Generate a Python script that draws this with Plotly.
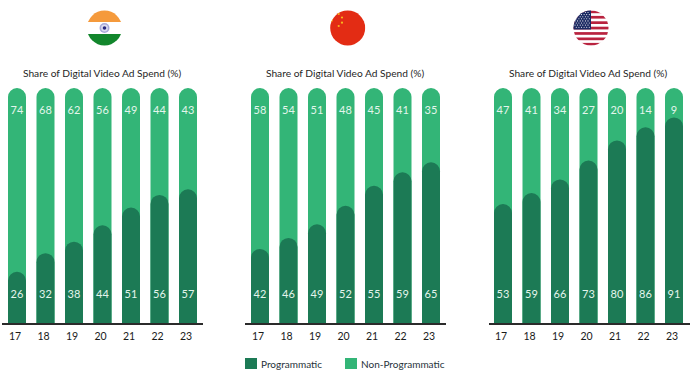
import base64
import plotly.graph_objects as go

years = [17, 18, 19, 20, 21, 22, 23]
countries = ["India", "China", "USA"]

# Printed labels of each segment
india_prog = [26, 32, 38, 44, 51, 56, 57]
india_non = [74, 68, 62, 56, 49, 44, 43]
china_prog = [42, 46, 49, 52, 55, 59, 65]
china_non = [58, 54, 51, 48, 45, 41, 35]
usa_prog = [53, 59, 66, 73, 80, 86, 91]
usa_non = [47, 41, 34, 27, 20, 14, 9]

# The reference's dark bars are not drawn to the scale of their printed labels,
# so their heights (% of the column) are read off the picture separately.
india_height = [21.8, 29.7, 34.6, 41.6, 49.1, 54.5, 56.9]
china_height = [31.5, 36.2, 42.0, 49.9, 58.4, 64.1, 68.4]
usa_height = [50.6, 55.3, 61.1, 69.1, 77.7, 83.3, 87.5]

W, H = 691, 381
DARK, LIGHT = "#1c7a55", "#33b577"
LABEL = "#e4f5ec"
FONT = "Lato"
TITLE = "Share of Digital Video Ad Spend (%)"
AX_X0 = [1.5, 245, 488.5]
AX_LEN = 201
FIRST = [17, 260, 503]
STEP = 28.5
TOP, BOTTOM = 88, 323
LABEL_LOW, LABEL_HIGH = 11.6, 90

panels = [
    (india_prog, india_non, india_height),
    (china_prog, china_non, china_height),
    (usa_prog, usa_non, usa_height),
]

fig = go.Figure()
layout = {}
for i, (prog, non, height) in enumerate(panels):
    suffix = "" if i == 0 else str(i + 1)
    top_suffix = str(i + 4)  # overlaid axis holding the dark bars, so they keep their round caps
    xa, ya, ya_top = "x" + suffix, "y" + suffix, "y" + top_suffix
    total = [p + n for p, n in zip(prog, non)]
    common = dict(x=years, xaxis=xa, width=18 / STEP, showlegend=False)
    fig.add_trace(go.Bar(y=total, yaxis=ya, name="Non-Programmatic",
                         marker=dict(color=LIGHT, cornerradius=9, line_width=0), **common))
    fig.add_trace(go.Bar(y=height, yaxis=ya_top, name="Programmatic",
                         marker=dict(color=DARK, cornerradius=9, line_width=0), **common))
    for vals, ypos in ((prog, LABEL_LOW), (non, LABEL_HIGH)):
        fig.add_trace(go.Scatter(x=years, y=[ypos] * len(years), text=[str(v) for v in vals],
                                 mode="text", textposition="middle center",
                                 textfont=dict(family=FONT, size=11, color=LABEL),
                                 xaxis=xa, yaxis=ya_top, showlegend=False, hoverinfo="skip"))
    left = (AX_X0[i] - FIRST[i]) / STEP + years[0]
    right = (AX_X0[i] + AX_LEN - FIRST[i]) / STEP + years[0]
    layout["xaxis" + suffix] = dict(
        domain=[AX_X0[i] / W, (AX_X0[i] + AX_LEN) / W], range=[left, right],
        tickmode="array", tickvals=years, ticktext=[str(y) for y in years],
        ticks="outside", ticklen=3, tickcolor="rgba(0,0,0,0)", ticklabelshift=-2,
        showgrid=False, zeroline=False, showline=True,
        linecolor="#2b2b2b", linewidth=1.5, anchor=ya,
        tickfont=dict(family=FONT, size=10.5, color="#1a1a1a"),
    )
    dom = [1 - BOTTOM / H, 1 - TOP / H]
    layout["yaxis" + suffix] = dict(domain=dom, range=[0, 100], visible=False, anchor=xa)
    layout["yaxis" + top_suffix] = dict(domain=dom, range=[0, 100], visible=False, anchor=xa,
                                        overlaying=ya)

annotations = [
    dict(text=TITLE, x=cx / W, y=1 - 72.7 / H, xref="paper", yref="paper", showarrow=False,
         xanchor="center", yanchor="middle", font=dict(family=FONT, size=10.2, color="#1f1f1f"))
    for cx in (102, 345, 588.3)
]
shapes = []
for sx, text_x, name, color in ((245, 261, "Programmatic", DARK), (345, 361, "Non-Programmatic", LIGHT)):
    shapes.append(dict(type="rect", xref="paper", yref="paper", x0=sx / W, x1=(sx + 12) / W,
                       y0=1 - 369 / H, y1=1 - 358 / H, fillcolor=color, line_width=0))
    annotations.append(dict(text=name, x=text_x / W, y=1 - 363.5 / H, xref="paper", yref="paper",
                            showarrow=False, xanchor="left", yanchor="middle", xshift=-2,
                            font=dict(family=FONT, size=10, color="#26323a")))


def svg_uri(body):
    svg = ('<svg xmlns="http://www.w3.org/2000/svg" viewBox="-18 -18 36 36" width="144" height="144">'
           '<defs><clipPath id="c"><circle r="17.5"/></clipPath></defs>'
           '<g clip-path="url(#c)">' + body + "</g></svg>")
    return "data:image/svg+xml;base64," + base64.b64encode(svg.encode()).decode()


india_flag = ('<rect x="-18" y="-18" width="36" height="12" fill="#f59a3c"/>'
              '<rect x="-18" y="-6" width="36" height="12" fill="#ffffff"/>'
              '<rect x="-18" y="6" width="36" height="12" fill="#12862c"/>'
              '<circle r="5" fill="#a9a9d8"/><circle r="3.4" fill="#dcdcf0"/><circle r="1.8" fill="#2a2a80"/>')
china_flag = ('<rect x="-18" y="-18" width="36" height="36" fill="#e32c14"/>'
              + "".join(f'<circle cx="{a}" cy="{b}" r="{r}" fill="#f7b71d"/>'
                        for a, b, r in ((-9, -14, 1.1), (-5.7, -10.5, 1.1), (-5.7, -5.3, 1.1),
                                        (-9, -2, 1.1), (-17, -8, 2.2))))
stripes = "".join(f'<rect x="-18" y="{-17.5 + 2.7 * k:.2f}" width="36" height="2.7" fill="#b9233f"/>'
                  for k in range(0, 13, 2))
stars = "".join(f'<circle cx="{-16 + 2.6 * c + (1.3 if r % 2 else 0):.1f}" cy="{-15.5 + 2.1 * r:.1f}" r="0.55" fill="#ffffff"/>'
                for r in range(8) for c in range(6))
usa_flag = ('<rect x="-18" y="-18" width="36" height="36" fill="#ffffff"/>' + stripes +
            '<rect x="-18" y="-18" width="18" height="19.5" fill="#1c2a63"/>' + stars)

images = [
    dict(source=svg_uri(body), xref="paper", yref="paper", x=cx / W, y=1 - 28 / H,
         sizex=36 / W, sizey=36 / H, xanchor="center", yanchor="middle", sizing="stretch", layer="above")
    for cx, body in ((104.5, india_flag), (347.7, china_flag), (591, usa_flag))
]

fig.update_layout(
    width=W, height=H, margin=dict(l=0, r=0, t=0, b=0), barmode="overlay",
    paper_bgcolor="white", plot_bgcolor="white", showlegend=False,
    annotations=annotations, shapes=shapes, images=images, **layout,
)
fig.write_html("out.html", config={"displayModeBar": False},
               post_script="document.body.style.margin='0';document.body.style.overflow='hidden';")
